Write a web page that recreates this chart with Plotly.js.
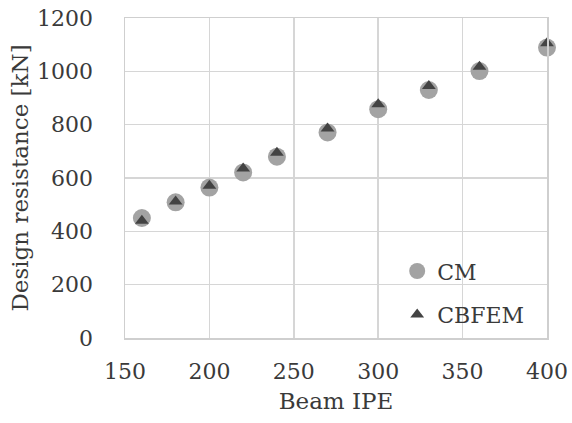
<!DOCTYPE html>
<html>
<head>
<meta charset="utf-8">
<script src="https://cdn.plot.ly/plotly-3.0.1.min.js"></script>
<style>html,body{margin:0;padding:0;background:#fff;}#chart{width:572px;height:423px;}</style>
</head>
<body>
<div id="chart"></div>
<script>
const beamIPE = [160, 180, 200, 220, 240, 270, 300, 330, 360, 400];
const cmValues = [450, 509, 564, 621, 680, 771, 858, 930, 1001, 1089];
const cbfemValues = [440, 512, 571, 636, 695, 786, 877, 945, 1017, 1105];
const xTicks = [150, 200, 250, 300, 350, 400];
const yTicks = [0, 200, 400, 600, 800, 1000, 1200];

const font = 'DejaVu Serif';
const textColor = '#3a3a3a';

const traces = [
  {
    x: beamIPE, y: cmValues, name: 'CM', type: 'scatter', mode: 'markers',
    legendgroup: 'a', cliponaxis: false,
    marker: {symbol: 'circle', size: 18, color: '#a3a3a3'}
  },
  {
    x: beamIPE, y: cbfemValues, name: 'CBFEM', type: 'scatter', mode: 'markers',
    legendgroup: 'b', cliponaxis: false,
    marker: {symbol: 'triangle-up', size: 12, color: '#434343'}
  }
];

const layout = {
  width: 572, height: 423,
  margin: {l: 125, r: 25, t: 18, b: 85},
  paper_bgcolor: '#fff', plot_bgcolor: '#fff',
  font: {family: font, size: 22, color: textColor},
  showlegend: true,
  legend: {
    x: 0.645, y: 0.14, xanchor: 'left', yanchor: 'middle',
    bgcolor: 'rgba(0,0,0,0)', font: {family: font, size: 22, color: textColor},
    traceorder: 'grouped', tracegroupgap: 12, itemwidth: 30
  },
  xaxis: {
    range: [150, 400], tickvals: xTicks, ticktext: xTicks.map(String),
    showgrid: true, gridcolor: '#d6d6d6', gridwidth: 1.5,
    showline: true, linecolor: '#cfcfcf', linewidth: 1.5, mirror: true,
    zeroline: false, ticks: '', ticklabelstandoff: 13,
    tickfont: {family: font, size: 22, color: textColor},
    title: {text: 'Beam IPE', font: {family: font, size: 23, color: textColor}, standoff: 10}
  },
  yaxis: {
    range: [0, 1200], tickvals: yTicks, ticktext: yTicks.map(String),
    showgrid: true, gridcolor: '#d6d6d6', gridwidth: 1.5,
    showline: true, linecolor: '#cfcfcf', linewidth: 1.5, mirror: true,
    zeroline: false, ticks: '', ticklabelstandoff: 26,
    tickfont: {family: font, size: 22, color: textColor},
    title: {text: 'Design resistance [kN]', font: {family: font, size: 23, color: textColor}, standoff: 2}
  }
};

Plotly.newPlot('chart', traces, layout, {staticPlot: true});
</script>
</body>
</html>
